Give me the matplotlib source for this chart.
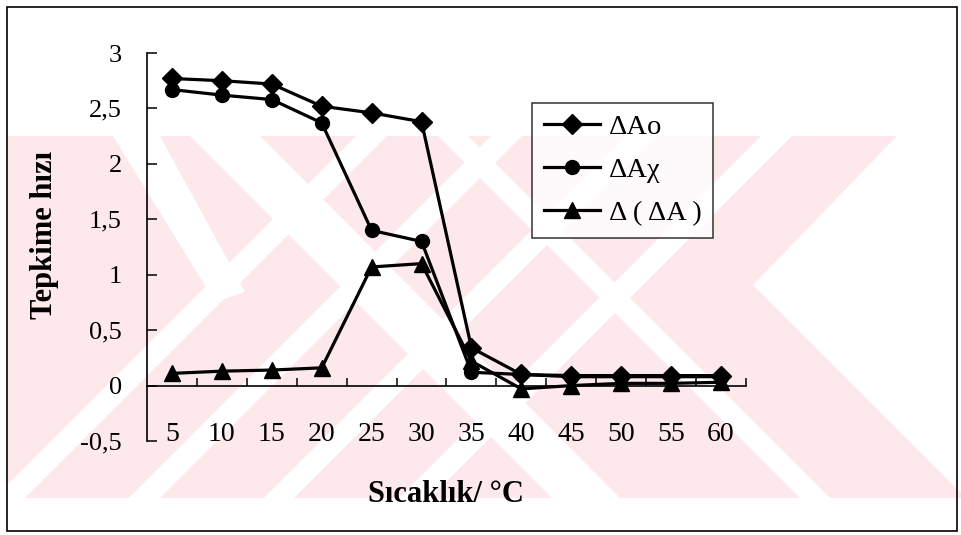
import numpy as np
import matplotlib.pyplot as plt
from matplotlib.patches import Polygon, Rectangle
from matplotlib.ticker import FixedLocator

plt.rcParams['font.family'] = ['Liberation Serif', 'DejaVu Serif']

# data
temps = ['5', '10', '15', '20', '25', '30', '35', '40', '45', '50', '55', '60']
dA_o = [2.77, 2.75, 2.72, 2.52, 2.46, 2.38, 0.34, 0.10, 0.09, 0.09, 0.09, 0.09]
dA_x = [2.67, 2.62, 2.58, 2.37, 1.40, 1.30, 0.12, 0.10, 0.08, 0.08, 0.08, 0.08]
d_dA = [0.11, 0.13, 0.14, 0.16, 1.07, 1.10, 0.22, -0.03, 0.00, 0.02, 0.02, 0.03]
series_names = ['\u0394Ao', '\u0394A\u03c7', '\u0394 ( \u0394A )']
y_ticks = [-0.5, 0, 0.5, 1, 1.5, 2, 2.5, 3]
y_tick_labels = ['-0,5', '0', '0,5', '1', '1,5', '2', '2,5', '3']

W, H = 962, 535
fig = plt.figure(figsize=(W / 100, H / 100), dpi=100)

# background layer in pixel coords (y down): faint watermark + outer frame
bg = fig.add_axes([0, 0, 1, 1], zorder=0)
bg.set_xlim(0, W)
bg.set_ylim(H, 0)
bg.axis('off')
pink = '#fde8ec'
band = Rectangle((8, 136), W - 8, 362, facecolor=pink, edgecolor='none')
bg.add_patch(band)
white_shapes = [
    # "/" stripes
    [(-6, 498), (25, 498), (387, 136), (356, 136)],
    [(129, 498), (160, 498), (522, 136), (491, 136)],
    [(264, 498), (294, 498), (656, 136), (626, 136)],
    [(399, 498), (430, 498), (792, 136), (761, 136)],
    # "\" stripes
    [(113, 136), (160, 136), (245, 292), (215, 302)],
    [(438, 136), (468, 136), (830, 498), (800, 498)],
    [(190, 136), (260, 136), (620, 498), (552, 498)],
    # notch on the right
    [(897, 136), (1000, 136), (1000, 532), (753, 285)],
]
for pts in white_shapes:
    p = Polygon(pts, closed=True, facecolor='white', edgecolor='none')
    bg.add_patch(p)
    p.set_clip_path(band)
bg.add_patch(Rectangle((7, 7), 950, 524, fill=False, edgecolor='black', linewidth=1.2))

ax = fig.add_axes([147 / W, 1 - 441 / H, 599 / W, 388 / H], zorder=1)
ax.patch.set_alpha(0)

x = np.arange(len(temps))
ax.plot(x, dA_o, color='black', lw=2.3, marker='D', ms=10, label=series_names[0])
ax.plot(x, dA_x, color='black', lw=2.3, marker='o', ms=10, label=series_names[1])
ax.plot(x, d_dA, color='black', lw=2.3, marker='^', ms=11, label=series_names[2])

ax.set_xlim(-0.5, len(temps) - 0.5)
ax.set_ylim(-0.5, 3)

ax.spines['top'].set_visible(False)
ax.spines['right'].set_visible(False)
ax.spines['bottom'].set_position(('data', 0))
for s in ('left', 'bottom'):
    ax.spines[s].set_linewidth(1.2)

ax.set_xticks(x)
ax.set_xticklabels(temps, fontsize=20)
ax.xaxis.set_minor_locator(FixedLocator(np.arange(len(temps)) + 0.5))
ax.tick_params(axis='x', which='major', length=0, pad=26)
ax.tick_params(axis='x', which='minor', direction='in', length=6, width=1.1)

ax.set_yticks(y_ticks)
ax.set_yticklabels(y_tick_labels, fontsize=19)
ax.tick_params(axis='y', direction='in', length=7, width=1.1, pad=18)

fig.text(45 / W, 1 - 235 / H, 'Tepkime h\u0131z\u0131', rotation=90, fontsize=22,
         fontweight='bold', ha='center', va='center')
fig.text(446 / W, 1 - 495 / H, 'S\u0131cakl\u0131k/ \u00b0C', fontsize=22,
         fontweight='bold', ha='center', va='center')

leg = ax.legend(loc='upper left', bbox_to_anchor=(0.643, 0.871), borderaxespad=0,
                fontsize=20.5, frameon=True, fancybox=False, edgecolor='black',
                handlelength=2.0, handletextpad=0.3, labelspacing=0.6,
                borderpad=0.4)
leg.get_frame().set_linewidth(1.1)
leg.get_frame().set_facecolor('white')

fig.savefig('out.png', dpi=100)
